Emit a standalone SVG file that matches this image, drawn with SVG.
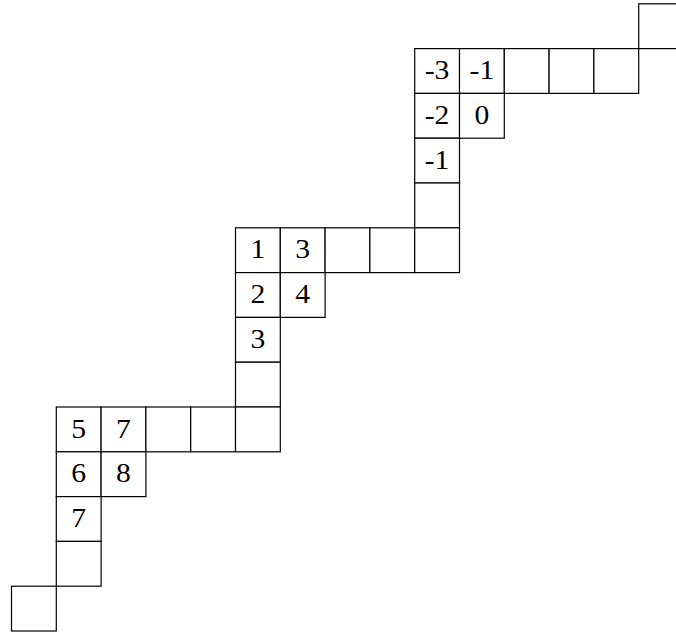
<svg xmlns="http://www.w3.org/2000/svg" width="676" height="635" viewBox="0 0 676 635">
<style>
.c{fill:#fff;stroke:#000;stroke-width:1.2}
.t{font-family:"Liberation Serif","Times New Roman",serif;font-size:26.5px;fill:#000;text-anchor:middle}
</style>
<defs><rect id="cell" class="c" width="44.8" height="44.8"/></defs>
<rect width="676" height="635" fill="#fff"/>
<g id="top-corner"><use href="#cell" x="638.7" y="3.8"/></g>
<g id="top-block">
 <g id="t-r1c1"><use href="#cell" x="414.7" y="48.6"/><text class="t" transform="matrix(1.12 0 0 1 437.1 79.2)">-3</text></g>
 <g id="t-r1c2"><use href="#cell" x="459.5" y="48.6"/><text class="t" transform="matrix(1.12 0 0 1 481.9 79.2)">-1</text></g>
 <g id="t-r1c3"><use href="#cell" x="504.3" y="48.6"/></g>
 <g id="t-r1c4"><use href="#cell" x="549.1" y="48.6"/></g>
 <g id="t-r1c5"><use href="#cell" x="593.9" y="48.6"/></g>
 <g id="t-r2c1"><use href="#cell" x="414.7" y="93.4"/><text class="t" transform="matrix(1.12 0 0 1 437.1 124)">-2</text></g>
 <g id="t-r2c2"><use href="#cell" x="459.5" y="93.4"/><text class="t" transform="matrix(1.12 0 0 1 481.9 124)">0</text></g>
 <g id="t-r3c1"><use href="#cell" x="414.7" y="138.2"/><text class="t" transform="matrix(1.12 0 0 1 437.1 168.8)">-1</text></g>
 <g id="t-r4c1"><use href="#cell" x="414.7" y="183"/></g>
</g>
<g id="mid-block">
 <g id="m-r1c1"><use href="#cell" x="235.5" y="227.8"/><text class="t" transform="matrix(1.12 0 0 1 257.9 258.4)">1</text></g>
 <g id="m-r1c2"><use href="#cell" x="280.3" y="227.8"/><text class="t" transform="matrix(1.12 0 0 1 302.7 258.4)">3</text></g>
 <g id="m-r1c3"><use href="#cell" x="325.1" y="227.8"/></g>
 <g id="m-r1c4"><use href="#cell" x="369.9" y="227.8"/></g>
 <g id="m-r1c5"><use href="#cell" x="414.7" y="227.8"/></g>
 <g id="m-r2c1"><use href="#cell" x="235.5" y="272.6"/><text class="t" transform="matrix(1.12 0 0 1 257.9 303.2)">2</text></g>
 <g id="m-r2c2"><use href="#cell" x="280.3" y="272.6"/><text class="t" transform="matrix(1.12 0 0 1 302.7 303.2)">4</text></g>
 <g id="m-r3c1"><use href="#cell" x="235.5" y="317.4"/><text class="t" transform="matrix(1.12 0 0 1 257.9 348)">3</text></g>
 <g id="m-r4c1"><use href="#cell" x="235.5" y="362.2"/></g>
</g>
<g id="bottom-block">
 <g id="b-r1c1"><use href="#cell" x="56.3" y="407"/><text class="t" transform="matrix(1.12 0 0 1 78.7 437.6)">5</text></g>
 <g id="b-r1c2"><use href="#cell" x="101.1" y="407"/><text class="t" transform="matrix(1.12 0 0 1 123.5 437.6)">7</text></g>
 <g id="b-r1c3"><use href="#cell" x="145.9" y="407"/></g>
 <g id="b-r1c4"><use href="#cell" x="190.7" y="407"/></g>
 <g id="b-r1c5"><use href="#cell" x="235.5" y="407"/></g>
 <g id="b-r2c1"><use href="#cell" x="56.3" y="451.8"/><text class="t" transform="matrix(1.12 0 0 1 78.7 482.4)">6</text></g>
 <g id="b-r2c2"><use href="#cell" x="101.1" y="451.8"/><text class="t" transform="matrix(1.12 0 0 1 123.5 482.4)">8</text></g>
 <g id="b-r3c1"><use href="#cell" x="56.3" y="496.6"/><text class="t" transform="matrix(1.12 0 0 1 78.7 527.2)">7</text></g>
 <g id="b-r4c1"><use href="#cell" x="56.3" y="541.4"/></g>
</g>
<g id="bottom-corner"><use href="#cell" x="11.5" y="586.2"/></g>
</svg>
